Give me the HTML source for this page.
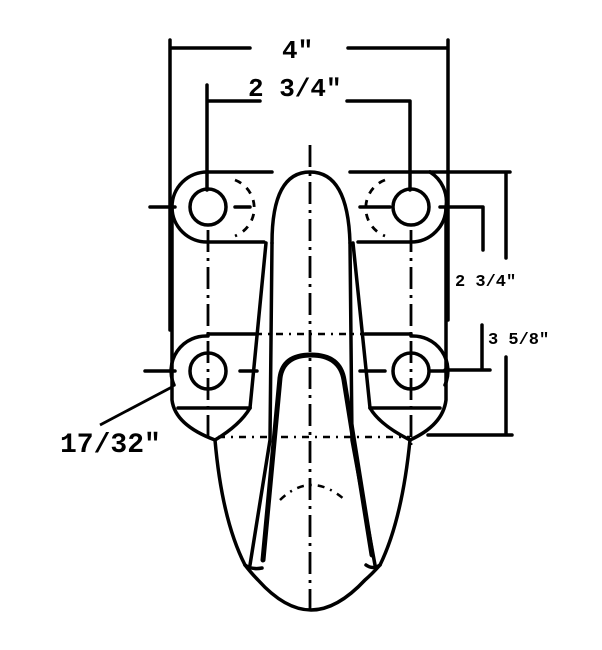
<!DOCTYPE html>
<html><head><style>
html,body{margin:0;padding:0;background:#fff;}
svg{display:block}
text{font-family:"Liberation Mono",monospace;fill:#000;font-weight:bold;}
</style></head><body>
<svg width="602" height="650" viewBox="0 0 602 650" xmlns="http://www.w3.org/2000/svg">
<g fill="none" stroke="#000" stroke-width="3.5" stroke-linecap="round" stroke-linejoin="round">
<!-- top dims -->
<path d="M170 40 V330 M170 48 H250 M348 48 H448 M448 40 V320"/>
<path d="M207 85 V190 M207 101 H260 M347 101 H410 V190"/>
<!-- right dims -->
<path d="M430 172 H510 M506 172 V258 M506 357 V435 M428 435 H512"/>
<path d="M440 207 H483 V250 M482 325 V370 M445 370 H490"/>
<!-- top plate -->
<path d="M208 172 H272 M350 172 H430"/>
<path d="M208 172 A35 35 0 0 0 172 207 A35 35 0 0 0 208 242 H264"/>
<path d="M430 172 A35 35 0 0 1 446 207 A35 35 0 0 1 411 242 H358"/>
<!-- holes -->
<circle cx="208" cy="207" r="18"/><circle cx="411" cy="207" r="18"/>
<circle cx="208" cy="371" r="18"/><circle cx="411" cy="371" r="18"/>
<!-- body sides -->
<path d="M172 207 V400 Q175 425 215 440"/>
<path d="M446 207 V400 Q443 425 410 440"/>
<path d="M266 243 L250 408"/>
<path d="M353 243 L370 408"/>
<!-- lower ears -->
<path d="M208 334 H255 M411 334 H365"/>
<path d="M208 336 A35 35 0 0 0 174 385 M411 336 A35 35 0 0 1 445 385"/>
<path d="M178 408 H250 M370 408 H440"/>
<path d="M250 408 Q240 425 215 440 M370 408 Q380 425 410 440"/>
<path d="M145 371 H175 M240 371 H257 M360 371 H385 M430 371 H445"/>
<path d="M150 207 H175 M235 207 H250 M360 207 H390"/>
<!-- hook outer stem -->
<path d="M272 243 Q272 172 310 172 Q348 172 350 243"/>
<path d="M272 243 L270 440 L250 565"/>
<path d="M350 243 L352 440 L375 565"/>
<!-- outer body -->
<path d="M215 440 Q222 520 245 565 Q252 574 258 580 Q285 610 311 610 Q337 610 365 580 Q372 574 380 565 Q402 520 410 440"/>
<path d="M245 565 Q252 570 262 568 M380 565 Q373 570 366 565"/>
<!-- inner hook arch -->
<path stroke-width="5" d="M280 378 Q283 355 311 355 Q340 355 344 380 L372 555 M280 378 L263 560"/>
</g>
<!-- center lines dash-dot -->
<g fill="none" stroke="#000" stroke-width="2.8" stroke-dasharray="22 6 3 6">
<path d="M310 145 V610"/>
<path d="M208 230 V440"/>
<path d="M411 230 V445"/>
</g>
<g fill="none" stroke="#000" stroke-width="2.5" stroke-dasharray="7 6 2 6">
<path d="M255 334 H365"/>
<path d="M218 437 H410"/>
<path d="M280 500 Q311 470 345 500"/>
</g>
<g fill="none" stroke="#000" stroke-width="2.8" stroke-dasharray="7 7">
<path d="M235 180 A30 30 0 0 1 235 236"/>
<path d="M385 180 A30 30 0 0 0 385 236"/>
</g>
<path d="M172 387 L100 425" stroke="#000" stroke-width="2.8"/>
<text x="282" y="58" font-size="26">4"</text>
<text x="248" y="96" font-size="26">2 3/4"</text>
<text x="455" y="286" font-size="17">2 3/4"</text>
<text x="488" y="344" font-size="17">3 5/8"</text>
<text x="60" y="452" font-size="28">17/32"</text>
</svg>
</body></html>
